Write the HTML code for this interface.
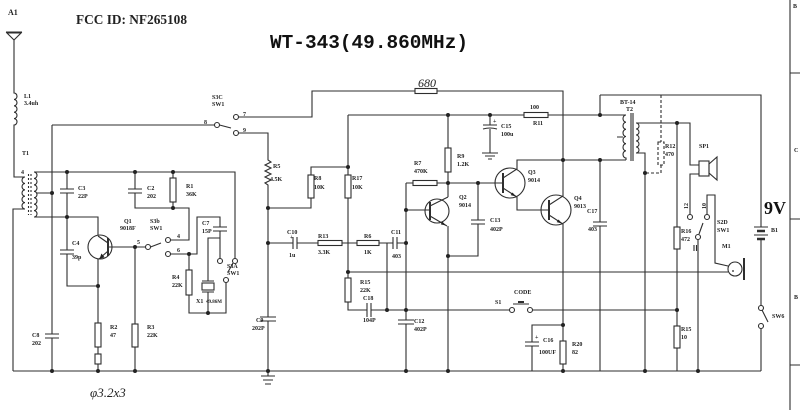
<!DOCTYPE html>
<html><head><meta charset="utf-8"><style>
html,body{margin:0;padding:0;background:#fff;}
svg{display:block;}
.w{fill:none;stroke:#2e2e2e;stroke-width:1.1;}
.r{fill:#fff;stroke:#2e2e2e;stroke-width:1.1;}
.d{fill:#222;}
.t{font-family:"Liberation Serif",serif;font-size:6px;font-weight:bold;fill:#222;}
</style></head><body>
<svg width="800" height="410" viewBox="0 0 800 410" xmlns="http://www.w3.org/2000/svg">
<rect width="800" height="410" fill="#fff"/>
<g class="w">
<!-- antenna & T1 primary -->
<path d="M6 32H22M7 33L21 33L14 40Z"/>
<path d="M14 40V93a3 3.2 0 0 1 0 6.4a3 3.2 0 0 1 0 6.4a3 3.2 0 0 1 0 6.4a3 3.2 0 0 1 0 6.4a3 3.2 0 0 1 0 6.4V177H25a3 3.2 0 0 0 0 6.4a3 3.2 0 0 0 0 6.4a3 3.2 0 0 0 0 6.4a3 3.2 0 0 0 0 6.4a3 3.2 0 0 0 0 6.4H13V371"/>
<path d="M28.5 174V215M31 174V215" stroke-dasharray="2 2"/>
<path d="M34 172a3 3.21 0 0 1 0 6.43a3 3.21 0 0 1 0 6.43a3 3.21 0 0 1 0 6.43a3 3.21 0 0 1 0 6.43a3 3.21 0 0 1 0 6.43a3 3.21 0 0 1 0 6.43a3 3.21 0 0 1 0 6.43"/>
<path d="M34 172H235V258.5M36 193H52M34 217H98V235"/>
<!-- bottom rail -->
<path d="M13 371H761"/>
<!-- x52 line & C8 -->
<path d="M52 125V334M52 338V371M45 334H59M45 338H59M52 125H214.5"/>
<!-- C3 C4 -->
<path d="M67 172V189M60 189H74M60 193H74M67 193V217V250M60 250H74M60 254H74M67 254V286H98"/>
<!-- C2 R1 -->
<path d="M135 172V189M128 189H142M128 193H142M135 193V208H189V240H170.5M173 172V178M173 202V208"/>
<!-- Q1 -->
<circle cx="100" cy="247" r="12"/>
<path d="M108 238V256" stroke-width="2"/>
<path d="M108 243L98 236M108 251L99 259M98 259V323M98 347V354M98 364V371"/>
<path d="M108 247H145.5M135 247V324M135 347V371M150.5 247L161 243"/>
<!-- terminal 6, C7, X1, R4 -->
<path d="M170.5 254H197V217H220V227M213 227H227M213 231H227M220 231V238H208V281M202 281H214M202 292H214M208 292V313M220 238V258.5"/>
<path d="M189 254V270M189 295V313H226V282.5M233 263L228 272"/>
<!-- S3C and 680 line -->
<path d="M219.5 125L231 128M238.5 117H312V91H415M437 91H563V160"/>
<path d="M238.5 133H268V160l3 2l-6 3l6 3l-6 3l6 3l-6 3l6 3l-6 3l3 2V317M260 317H276M260 321H276M268 321V371M268 371V376M261 376H275M263 380H273M265 384H271"/>
<!-- R8 R17 R15 C18 -->
<path d="M268 208H311V198M311 175V167H348"/>
<path d="M348 115H626M348 115V175M348 198V278M348 302V310H367M367 303V317M371 303V317M371 310H509.5"/>
<!-- C10 R13 R6 C11 -->
<path d="M268 243H293M293 237V249M297 237V249M297 243H318M342 243H357M379 243H393M393 237V249M397 237V249M397 243H406M387 243V310"/>
<!-- x406, C12, R7 -->
<path d="M406 183V320M398 320H414M398 324H414M406 324V371M406 183H413M437 183H503"/>
<!-- Q2 -->
<circle cx="437" cy="211" r="12"/>
<path d="M430 202V220" stroke-width="2"/>
<path d="M406 210H430M430 206L448 197M430 216L447 226M448 115V148M448 172V197M448 226V371"/>
<path d="M478 183V220M471 220H485M471 224H485M478 224V256H448"/>
<!-- C15 -->
<path d="M490 115V125M483 125H497M483 129Q490 127 497 129M490 129V153M482 153H498M485 156H495M488 159H492"/>
<!-- Q3 -->
<circle cx="510" cy="183" r="15"/>
<path d="M503 173V193" stroke-width="2"/>
<path d="M503 178L517 169V160H626M503 188L517 197V210H549"/>
<!-- Q4 -->
<circle cx="556" cy="210" r="15"/>
<path d="M549 200V220" stroke-width="2"/>
<path d="M549 205L563 196V160M549 215L563 224V341M563 364V371M563 325H532V342M525 342H539M525 346H539M532 346V371"/>
<!-- S1 -->
<path d="M532.5 310H677M513 304H529"/>
<path d="M518 302H524" stroke-width="2"/>
<path d="M348 272H728"/>
<!-- C17 -->
<path d="M600 160V222M593 222H607M593 226H607M600 226V371M600 95V115M600 95H761V227"/>
<!-- R12 dashed -->
<path d="M661 95V142M661 165V173H645" stroke-dasharray="3 2"/>
<!-- T2 -->
<path d="M626 115a3 3.58 0 0 0 0 7.17a3 3.58 0 0 0 0 7.17a3 3.58 0 0 0 0 7.17a3 3.58 0 0 0 0 7.17a3 3.58 0 0 0 0 7.17a3 3.58 0 0 0 0 7.17H626V160"/>
<path d="M631 113V161M633 113V161M617 137H623"/>
<path d="M636 123a3 3 0 0 1 0 6a3 3 0 0 1 0 6a3 3 0 0 1 0 6a3 3 0 0 1 0 6a3 3 0 0 1 0 6"/>
<path d="M636 123H690V165H699M699 174H690V214.5M636 153H645V371"/>
<path d="M677 123V227M677 249V326M677 348V371"/>
<!-- speaker -->
<rect x="699" y="161" width="10" height="15"/>
<path d="M709 164L717 157V180L709 173Z"/>
<!-- S2D, mic -->
<path d="M707 214.5V195H715V263L728 266M698 239.5V371M699 234L703 223M694 245V251M696.5 245V251"/>
<circle cx="735" cy="269" r="7"/>
<path d="M744 258V280" stroke-width="2"/>
<!-- battery, SW6 -->
<path d="M754 227H768M754 235H768M761 239V305.5M762 310L768 322M761 328.5V371"/>
<path d="M757 231H765M757 239H765" stroke-width="2.5"/>
<!-- right border -->
<path d="M790 0V410M790 73H800M790 219H800M790 365H800"/>
</g>
<!-- resistors & boxes -->
<g class="r">
<rect x="170" y="178" width="6" height="24"/>
<rect x="95" y="323" width="6" height="24"/>
<rect x="95" y="354" width="6" height="10"/>
<rect x="132" y="324" width="6" height="23"/>
<rect x="186" y="270" width="6" height="25"/>
<rect x="202" y="283" width="12" height="7"/>
<rect x="415" y="88.5" width="22" height="5"/>
<rect x="308" y="175" width="6" height="23"/>
<rect x="345" y="175" width="6" height="23"/>
<rect x="345" y="278" width="6" height="24"/>
<rect x="318" y="240.5" width="24" height="5"/>
<rect x="357" y="240.5" width="22" height="5"/>
<rect x="413" y="180.5" width="24" height="5"/>
<rect x="445" y="148" width="6" height="24"/>
<rect x="524" y="112.5" width="24" height="5"/>
<rect x="560" y="341" width="6" height="23"/>
<rect x="658" y="142" width="6" height="23" stroke-dasharray="3 2"/>
<rect x="674" y="227" width="6" height="22"/>
<rect x="674" y="326" width="6" height="22"/>
<circle cx="148" cy="247" r="2.5"/>
<circle cx="168" cy="240" r="2.5"/>
<circle cx="168" cy="254" r="2.5"/>
<circle cx="217" cy="125" r="2.5"/>
<circle cx="236" cy="117" r="2.5"/>
<circle cx="236" cy="133" r="2.5"/>
<circle cx="220" cy="261" r="2.5"/>
<circle cx="235" cy="261" r="2.5"/>
<circle cx="226" cy="280" r="2.5"/>
<circle cx="512" cy="310" r="2.5"/>
<circle cx="530" cy="310" r="2.5"/>
<circle cx="690" cy="217" r="2.5"/>
<circle cx="707" cy="217" r="2.5"/>
<circle cx="698" cy="237" r="2.5"/>
<circle cx="761" cy="308" r="2.5"/>
<circle cx="761" cy="326" r="2.5"/>
</g>
<!-- arrows -->
<g class="d">
<polygon points="99.5,259 104.6,257.3 101.4,253.5"/>
<polygon points="446,225.5 440.8,224.4 442.4,221.6"/>
<polygon points="516,196.5 510.7,195.1 512.5,192.5"/>
<polygon points="562,223.5 556.7,222.1 558.5,219.5"/>
<circle cx="733" cy="271" r="0.9"/>
</g>
<!-- junction dots -->
<g class="d">
<circle cx="67" cy="172" r="2"/><circle cx="135" cy="172" r="2"/><circle cx="173" cy="172" r="2"/>
<circle cx="67" cy="217" r="2"/><circle cx="52" cy="193" r="2"/><circle cx="98" cy="286" r="2"/>
<circle cx="135" cy="247" r="2"/><circle cx="173" cy="208" r="2"/><circle cx="189" cy="254" r="2"/>
<circle cx="208" cy="313" r="2"/><circle cx="52" cy="371" r="2"/><circle cx="98" cy="371" r="2"/>
<circle cx="135" cy="371" r="2"/><circle cx="268" cy="208" r="2"/><circle cx="268" cy="243" r="2"/>
<circle cx="268" cy="371" r="2"/><circle cx="348" cy="167" r="2"/><circle cx="348" cy="272" r="2"/>
<circle cx="387" cy="310" r="2"/><circle cx="406" cy="310" r="2"/><circle cx="406" cy="243" r="2"/>
<circle cx="406" cy="210" r="2"/><circle cx="406" cy="371" r="2"/><circle cx="448" cy="115" r="2"/>
<circle cx="448" cy="183" r="2"/><circle cx="478" cy="183" r="2"/><circle cx="448" cy="256" r="2"/>
<circle cx="448" cy="371" r="2"/><circle cx="490" cy="115" r="2"/><circle cx="563" cy="160" r="2"/>
<circle cx="600" cy="160" r="2"/><circle cx="600" cy="115" r="2"/><circle cx="563" cy="325" r="2"/>
<circle cx="563" cy="371" r="2"/><circle cx="645" cy="173" r="2"/><circle cx="645" cy="371" r="2"/>
<circle cx="677" cy="123" r="2"/><circle cx="677" cy="310" r="2"/><circle cx="698" cy="371" r="2"/>
</g>
<!-- titles -->
<text x="8" y="15" class="t" style="font-size:8px">A1</text>
<text x="76" y="24" style="font-family:'Liberation Serif',serif;font-size:14px;font-weight:bold;fill:#222" textLength="111" lengthAdjust="spacingAndGlyphs">FCC ID: NF265108</text>
<text x="270" y="48" style="font-family:'Liberation Mono',monospace;font-size:19px;font-weight:bold;fill:#111" textLength="198" lengthAdjust="spacingAndGlyphs">WT-343(49.860MHz)</text>
<text x="764" y="214" style="font-family:'Liberation Serif',serif;font-size:18px;font-weight:bold;fill:#111">9V</text>
<text x="418" y="87" style="font-family:'Liberation Serif',serif;font-size:12px;font-style:italic;fill:#222">680</text>
<text x="90" y="397" style="font-family:'Liberation Serif',serif;font-size:13px;font-style:italic;fill:#222">φ3.2x3</text>
<!-- labels -->
<g class="t">
<text x="24" y="98">L1</text><text x="24" y="105">3.4uh</text>
<text x="22" y="155">T1</text><text x="21" y="174">4</text>
<text x="78" y="190">C3</text><text x="78" y="198">22P</text>
<text x="147" y="190">C2</text><text x="147" y="198">202</text>
<text x="186" y="188">R1</text><text x="186" y="196">36K</text>
<text x="212" y="99">S3C</text><text x="212" y="106">SW1</text>
<text x="204" y="124">8</text><text x="243" y="116">7</text><text x="243" y="132">9</text>
<text x="273" y="168">R5</text><text x="270" y="181">4.5K</text>
<text x="314" y="180">R8</text><text x="314" y="189">10K</text>
<text x="352" y="180">R17</text><text x="352" y="189">10K</text>
<text x="414" y="165">R7</text><text x="414" y="173">470K</text>
<text x="457" y="158">R9</text><text x="457" y="166">1.2K</text>
<text x="501" y="128">C15</text><text x="501" y="136">100u</text><text x="493" y="123">+</text>
<text x="530" y="109">100</text><text x="533" y="125">R11</text>
<text x="620" y="104">BT-14</text><text x="626" y="111">T2</text>
<text x="665" y="148">R12</text><text x="665" y="156">470</text>
<text x="699" y="148">SP1</text>
<text x="124" y="223">Q1</text><text x="120" y="230">9018F</text>
<text x="150" y="223">S3b</text><text x="150" y="230">SW1</text>
<text x="137" y="244">5</text><text x="177" y="238">4</text><text x="177" y="252">6</text>
<text x="202" y="225">C7</text><text x="202" y="233">15P</text>
<text x="72" y="245">C4</text><text x="72" y="259">39p</text>
<text x="172" y="279">R4</text><text x="172" y="287">22K</text>
<text x="196" y="303">X1</text><text x="206" y="303" style="font-size:5px">49.86M</text>
<text x="227" y="268">S3A</text><text x="227" y="275">SW1</text>
<text x="110" y="329">R2</text><text x="110" y="337">47</text>
<text x="147" y="329">R3</text><text x="147" y="337">22K</text>
<text x="32" y="337">C8</text><text x="32" y="345">202</text>
<text x="256" y="322">C9</text><text x="252" y="330">202P</text>
<text x="287" y="234">C10</text><text x="289" y="257">1u</text><text x="290" y="239">+</text>
<text x="318" y="238">R13</text><text x="318" y="254">3.3K</text>
<text x="364" y="238">R6</text><text x="364" y="254">1K</text>
<text x="391" y="234">C11</text><text x="392" y="258">403</text>
<text x="360" y="284">R15</text><text x="360" y="292">22K</text>
<text x="363" y="300">C18</text><text x="363" y="322">104P</text>
<text x="414" y="323">C12</text><text x="414" y="331">402P</text>
<text x="459" y="199">Q2</text><text x="459" y="207">9014</text>
<text x="490" y="222">C13</text><text x="490" y="231">402P</text>
<text x="528" y="174">Q3</text><text x="528" y="182">9014</text>
<text x="574" y="200">Q4</text><text x="574" y="208">9013</text>
<text x="587" y="213">C17</text><text x="588" y="231">403</text>
<text x="514" y="294">CODE</text><text x="495" y="304">S1</text>
<text x="543" y="342">C16</text><text x="539" y="354">100UF</text><text x="535" y="339">+</text>
<text x="572" y="346">R20</text><text x="572" y="354">82</text>
<text x="681" y="233">R16</text><text x="681" y="241">472</text>
<text x="681" y="331">R15</text><text x="681" y="339">10</text>
<text x="0" y="0" transform="translate(688,209) rotate(-90)">12</text>
<text x="0" y="0" transform="translate(706,209) rotate(-90)">10</text>
<text x="717" y="224">S2D</text><text x="717" y="232">SW1</text>
<text x="722" y="248">M1</text>
<text x="771" y="232">B1</text>
<text x="772" y="318">SW6</text>
<text x="793" y="8">B</text><text x="794" y="152">C</text><text x="794" y="299">B</text>
</g>
</svg>
</body></html>
